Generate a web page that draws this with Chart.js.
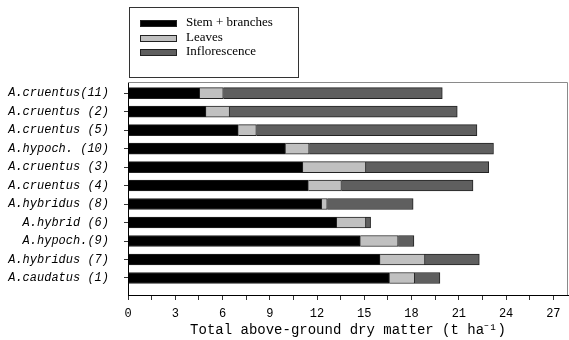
<!DOCTYPE html>
<html>
<head>
<meta charset="utf-8">
<script src="https://cdn.jsdelivr.net/npm/chart.js@4"></script>
<style>
  html, body { margin: 0; padding: 0; background: #fff; }
  #wrap { width: 569px; height: 340px; }
</style>
</head>
<body>
<div id="wrap"><canvas id="chart" width="569" height="340"></canvas></div>
<script>
// categories, top to bottom
const categories = [
  "A.cruentus(11)", "A.cruentus (2)", "A.cruentus (5)", "A.hypoch. (10)",
  "A.cruentus (3)", "A.cruentus (4)", "A.hybridus (8)", "A.hybrid (6)",
  "A.hypoch.(9)", "A.hybridus (7)", "A.caudatus (1)"
];
const seriesNames = ["Stem + branches", "Leaves", "Inflorescence"];
const stemValues = [4.55, 4.95, 7.0, 10.0, 11.1, 11.45, 12.3, 13.25, 14.75, 16.0, 16.6];
const leafValues = [1.5, 1.5, 1.15, 1.5, 4.0, 2.1, 0.35, 1.85, 2.4, 2.85, 1.6];
const inflValues = [13.9, 14.45, 14.0, 11.7, 7.8, 8.35, 5.45, 0.3, 1.0, 3.45, 1.6];
const xTickValues = [0, 1.5, 3, 4.5, 6, 7.5, 9, 10.5, 12, 13.5, 15, 16.5, 18, 19.5, 21, 22.5, 24, 25.5, 27];
const xTitle = "Total above-ground dry matter (t ha\u207B\u00B9)";

const colors = ["#000000", "#c0c0c0", "#5f5f5f"];

function toPoints(arr) {
  return arr.map((v, i) => ({ x: v, y: i }));
}

// 图框：上边和右边
const framePlugin = {
  id: "frame",
  afterDraw(chart) {
    const a = chart.chartArea;
    const c = chart.ctx;
    c.save();
    c.strokeStyle = "#8a8a8a";
    c.lineWidth = 1;
    c.beginPath();
    c.moveTo(a.left, a.top + 0.5);
    c.lineTo(a.right - 0.5, a.top + 0.5);
    c.lineTo(a.right - 0.5, a.bottom);
    c.stroke();
    c.restore();
  }
};

// 图例框
const legendBox = {
  id: "legendBox",
  afterDraw(chart) {
    const c = chart.ctx;
    c.save();
    c.strokeStyle = "#333";
    c.lineWidth = 1;
    c.strokeRect(129.5, 7.5, 169, 70);
    const rows = [23, 38, 52];
    chart.data.datasets.forEach((ds, i) => {
      c.fillStyle = ds.backgroundColor;
      c.fillRect(140, rows[i] - 3, 36, 6);
      c.strokeStyle = "#222";
      c.strokeRect(140.5, rows[i] - 2.5, 36, 6);
      c.fillStyle = "#000";
      c.font = "13px 'Liberation Serif'";
      c.textBaseline = "middle";
      c.fillText(ds.label, 186, rows[i]);
    });
    c.restore();
  }
};

new Chart(document.getElementById("chart"), {
  type: "bar",
  data: {
    datasets: [
      { label: seriesNames[0], data: toPoints(stemValues), backgroundColor: colors[0] },
      { label: seriesNames[1], data: toPoints(leafValues), backgroundColor: colors[1] },
      { label: seriesNames[2], data: toPoints(inflValues), backgroundColor: colors[2] }
    ].map(d => Object.assign(d, { borderColor: "#222", borderWidth: 1, barThickness: 11 }))
  },
  options: {
    indexAxis: "y",
    responsive: false,
    animation: false,
    layout: { padding: { top: 82, right: 1, left: 0, bottom: 0 } },
    plugins: { legend: { display: false }, tooltip: { enabled: false } },
    scales: {
      x: {
        type: "linear",
        stacked: true,
        min: 0,
        max: 27.93,
        afterBuildTicks: s => { s.ticks = xTickValues.map(v => ({ value: v })); },
        afterFit: s => { s.height = 45; },
        ticks: {
          autoSkip: false,
          maxRotation: 0,
          padding: 7,
          color: "#000",
          font: { family: "'Liberation Mono'", size: 12 },
          callback: v => (v % 3 === 0 ? String(v) : "")
        },
        grid: { drawOnChartArea: false, tickLength: 5, color: "#333" },
        border: { color: "#000", width: 1 },
        title: {
          display: true,
          text: xTitle,
          color: "#000",
          font: { family: "'Liberation Mono'", size: 14 },
          padding: { top: 0, bottom: 1 }
        }
      },
      y: {
        type: "linear",
        stacked: true,
        reverse: true,
        offset: false,
        min: -0.6,
        max: 10.92,
        afterBuildTicks: s => { s.ticks = categories.map((c, i) => ({ value: i })); },
        afterFit: s => { s.width = 128; },
        ticks: {
          autoSkip: false,
          padding: 15,
          color: "#000",
          font: { family: "'Liberation Mono'", size: 12, style: "italic" },
          callback: v => categories[v]
        },
        grid: { offset: false, drawOnChartArea: false, tickLength: 4, color: "#333" },
        border: { color: "#000", width: 1 }
      }
    }
  },
  plugins: [framePlugin, legendBox]
});
</script>
</body>
</html>
